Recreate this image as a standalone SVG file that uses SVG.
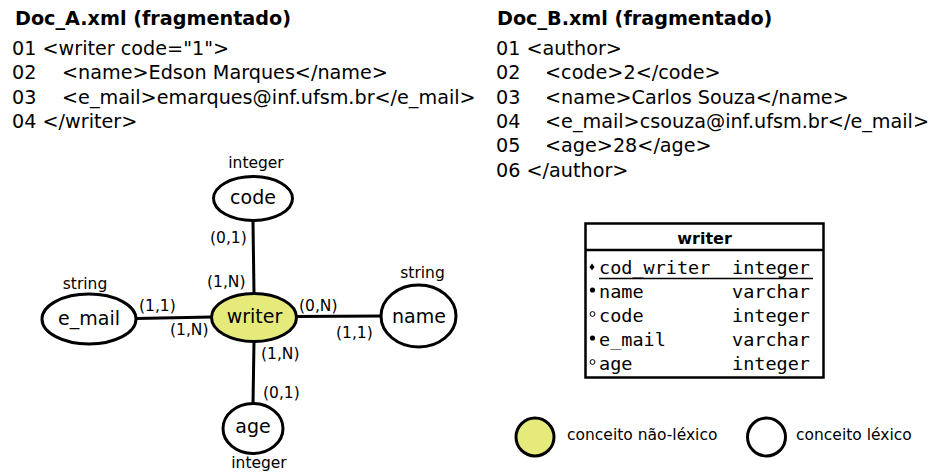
<svg xmlns="http://www.w3.org/2000/svg" width="930" height="473" viewBox="0 0 930 473">
  <style>
    .title { font-family: "DejaVu Sans", sans-serif; font-weight: bold; font-size: 19.2px; fill: #000; }
    .code { font-family: "DejaVu Sans", sans-serif; font-size: 19.2px; fill: #000; }
    .node { fill: #fff; stroke: #000; stroke-width: 3; }
    .entity { fill: #e6ea7b; stroke: #000; stroke-width: 3; }
    .lbl { font-family: "DejaVu Sans", sans-serif; font-size: 19px; fill: #000; text-anchor: middle; }
    .small { font-family: "DejaVu Sans", sans-serif; font-size: 15.5px; fill: #000; }
    .mid { text-anchor: middle; }
    .edge { stroke: #000; stroke-width: 3; fill: none; }
    .mono { font-family: "DejaVu Sans Mono", monospace; font-size: 18.5px; fill: #000; }
    .thead { font-family: "DejaVu Sans", sans-serif; font-weight: bold; font-size: 16px; fill: #000; text-anchor: middle; }
    .legend { font-family: "DejaVu Sans", sans-serif; font-size: 15.5px; fill: #000; }
  </style>

  <!-- XML fragment A -->
  <g id="doc-a">
    <text class="title" x="15" y="25">Doc_A.xml (fragmentado)</text>
    <text class="code" x="12" y="55">01 &lt;writer code="1"&gt;</text>
    <text class="code" y="79"><tspan x="12">02</tspan><tspan x="62">&lt;name&gt;Edson Marques&lt;/name&gt;</tspan></text>
    <text class="code" y="104"><tspan x="12">03</tspan><tspan x="62">&lt;e_mail&gt;emarques@inf.ufsm.br&lt;/e_mail&gt;</tspan></text>
    <text class="code" x="12" y="128">04 &lt;/writer&gt;</text>
  </g>

  <!-- XML fragment B -->
  <g id="doc-b">
    <text class="title" x="497" y="25">Doc_B.xml (fragmentado)</text>
    <text class="code" x="496" y="55">01 &lt;author&gt;</text>
    <text class="code" y="79"><tspan x="496">02</tspan><tspan x="545">&lt;code&gt;2&lt;/code&gt;</tspan></text>
    <text class="code" y="104"><tspan x="496">03</tspan><tspan x="545">&lt;name&gt;Carlos Souza&lt;/name&gt;</tspan></text>
    <text class="code" y="128"><tspan x="496">04</tspan><tspan x="545">&lt;e_mail&gt;csouza@inf.ufsm.br&lt;/e_mail&gt;</tspan></text>
    <text class="code" y="152"><tspan x="496">05</tspan><tspan x="545">&lt;age&gt;28&lt;/age&gt;</tspan></text>
    <text class="code" x="496" y="177">06 &lt;/author&gt;</text>
  </g>

  <!-- connectors with cardinalities -->
  <g id="connectors">
    <line class="edge" x1="253" y1="221" x2="254" y2="294"/>
    <line class="edge" x1="136" y1="318.5" x2="212" y2="317"/>
    <line class="edge" x1="296" y1="316.5" x2="382" y2="316"/>
    <line class="edge" x1="254" y1="341" x2="253" y2="404"/>
    <text class="small" x="210" y="243">(0,1)</text>
    <text class="small" x="207" y="287">(1,N)</text>
    <text class="small" x="139" y="311">(1,1)</text>
    <text class="small" x="170" y="335">(1,N)</text>
    <text class="small" x="299" y="311">(0,N)</text>
    <text class="small" x="336" y="338">(1,1)</text>
    <text class="small" x="261" y="359">(1,N)</text>
    <text class="small" x="263" y="398">(0,1)</text>
  </g>

  <!-- concept graph -->
  <g id="code">
    <ellipse class="node" cx="253" cy="198.5" rx="39.5" ry="22"/>
    <text class="lbl" x="253" y="204">code</text>
    <text class="small mid" x="256" y="168">integer</text>
  </g>
  <g id="writer">
    <ellipse class="entity" cx="254" cy="317.5" rx="42.5" ry="24"/>
    <text class="lbl" x="254.5" y="323">writer</text>
  </g>
  <g id="e_mail">
    <ellipse class="node" cx="89" cy="319" rx="47" ry="25"/>
    <text class="lbl" x="89" y="325">e_mail</text>
    <text class="small mid" x="85" y="289">string</text>
  </g>
  <g id="name">
    <ellipse class="node" cx="418.5" cy="316" rx="37.5" ry="31"/>
    <text class="lbl" x="419" y="322.5">name</text>
    <text class="small mid" x="422.5" y="278">string</text>
  </g>
  <g id="age">
    <ellipse class="node" cx="253" cy="428.5" rx="30" ry="25"/>
    <text class="lbl" x="253" y="433">age</text>
    <text class="small mid" x="259" y="468">integer</text>
  </g>

  <!-- relational table -->
  <g id="table-writer">
    <rect x="585.5" y="223.5" width="238" height="154" fill="#fff" stroke="#000" stroke-width="2.5"/>
    <line x1="585.5" y1="250" x2="823.5" y2="250" stroke="#000" stroke-width="2.5"/>
    <text class="thead" x="704.5" y="244">writer</text>
    <path d="M592 263.5 L594.5 267 L592 270.5 L589.5 267 Z" fill="#000"/>
    <circle cx="592.5" cy="290" r="2.6" fill="#000"/>
    <circle cx="592.5" cy="314" r="2.4" fill="#fff" stroke="#000" stroke-width="1"/>
    <circle cx="592.5" cy="338" r="2.6" fill="#000"/>
    <circle cx="592.5" cy="362" r="2.4" fill="#fff" stroke="#000" stroke-width="1"/>
    <text class="mono" y="274"><tspan x="599">cod_writer</tspan><tspan x="732">integer</tspan></text>
    <line x1="599" y1="278.5" x2="813" y2="278.5" stroke="#000" stroke-width="1.5"/>
    <text class="mono" y="298"><tspan x="599">name</tspan><tspan x="732">varchar</tspan></text>
    <text class="mono" y="322"><tspan x="599">code</tspan><tspan x="732">integer</tspan></text>
    <text class="mono" y="346"><tspan x="599">e_mail</tspan><tspan x="732">varchar</tspan></text>
    <text class="mono" y="370"><tspan x="599">age</tspan><tspan x="732">integer</tspan></text>
  </g>

  <!-- legend -->
  <g id="legend-nonlexical">
    <circle cx="535" cy="437" r="19" fill="#e6ea7b" stroke="#000" stroke-width="3"/>
    <text class="legend" x="567" y="440">conceito não-léxico</text>
  </g>
  <g id="legend-lexical">
    <circle cx="766.5" cy="437" r="19" fill="#fff" stroke="#000" stroke-width="3"/>
    <text class="legend" x="796" y="440">conceito léxico</text>
  </g>
</svg>
